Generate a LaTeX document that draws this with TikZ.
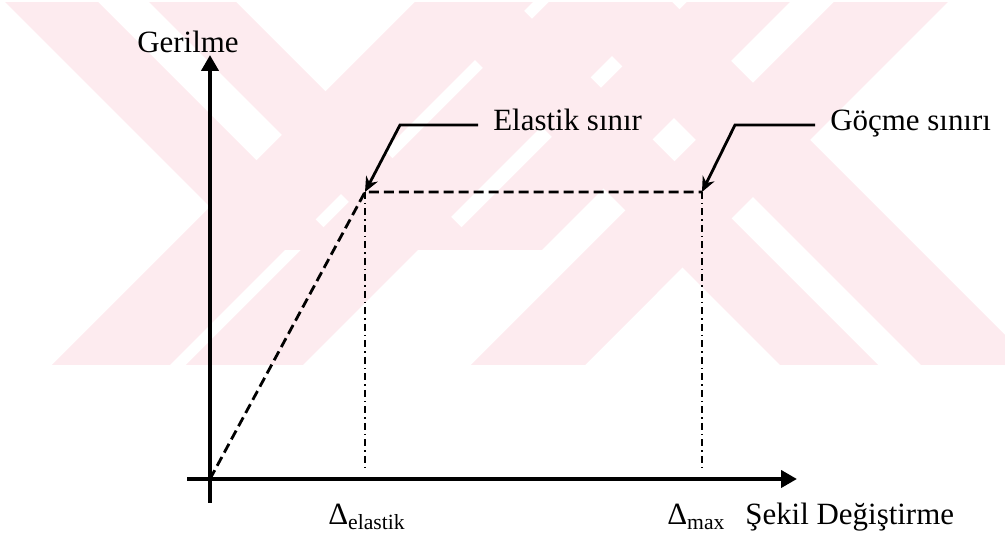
\documentclass[tikz,border=0pt]{standalone}
\usepackage{fontspec}
\setmainfont{Liberation Serif}
\usetikzlibrary{arrows.meta, positioning}
\definecolor{wmpink}{RGB}{253,235,239}

\begin{document}
\begin{tikzpicture}[x=0.02cm, y=-0.02cm, >=stealth,
    axis/.style={line width=2.6pt, -{Triangle[length=0.32cm,width=0.34cm]}},
    elastline/.style={line width=1.6pt, dash pattern=on 0.2cm off 0.1cm},
    limitline/.style={line width=1.6pt, dash pattern=on 0.14cm off 0.08cm on 0.03cm off 0.08cm},
    leader/.style={line width=1.6pt, -{Stealth[length=0.3cm,width=0.26cm]}},
    lbl/.style={font=\fontsize{17.6}{20}\selectfont, inner sep=0pt}]
  \useasboundingbox (0,0) rectangle (1005,536);

  % watermark bands
  \begin{scope}
    \clip (0,3) rectangle (1005,365);
    \foreach \a/\b in {417/535, 551/668, 836/950}
      \fill[wmpink] (\a,0) -- (\b,0) -- (\b-400,400) -- (\a-400,400) -- cycle;
    \foreach \a/\b in {415/513, 556/670}
      \fill[wmpink] (\a,0) -- (\b,0) -- (\b+400,400) -- (\a+400,400) -- cycle;
    \fill[wmpink] (689,0) -- (792,0) -- (542,250) -- (439,250) -- cycle;
    \foreach \a/\b in {3/96, 147/234}
      \fill[wmpink] (\a,0) -- (\b,0) -- (\b+250,250) -- (\a+250,250) -- cycle;
  \end{scope}

  % axes
  \coordinate (O) at (210,479);
  \coordinate (xstart) at (187,479);
  \coordinate (xend) at (797,479);
  \coordinate (ystart) at (210,503);
  \coordinate (yend) at (210,55);
  \draw[axis] (xstart) -- (xend);
  \draw[axis] (ystart) -- (yend);

  % limits
  \coordinate (elast) at (365,192);
  \coordinate (gocme) at (702,192);
  \coordinate (elastbot) at (365,472);
  \coordinate (gocmebot) at (702,472);
  \draw[elastline] (O) -- (elast) -- (gocme);
  \draw[limitline] (elast) -- (elastbot);
  \draw[limitline] (gocme) -- (gocmebot);

  % labels
  \node[lbl, anchor=base] (gerilme) at (188,53) {Gerilme};
  \node[lbl, anchor=base west] (elastlbl) at (493,131) {Elastik sınır};
  \node[lbl, anchor=base west] (gocmelbl) at (830,131) {Göçme sınırı};
  \node[lbl, anchor=base west] (delast) at (328,525) {Δ\textsubscript{elastik}};
  \node[lbl, anchor=base west] (dmax) at (667,525) {Δ\textsubscript{max}};
  \node[lbl, anchor=base west] (sekil) at (745,525) {Şekil Değiştirme};

  % leaders
  \coordinate (ebend) at (400,125);
  \coordinate (gbend) at (735,125);
  \draw[leader] ([xshift=-0.3cm]elastlbl.west |- ebend) -- (ebend) -- (elast);
  \draw[leader] ([xshift=-0.3cm]gocmelbl.west |- gbend) -- (gbend) -- (gocme);
\end{tikzpicture}
\end{document}
